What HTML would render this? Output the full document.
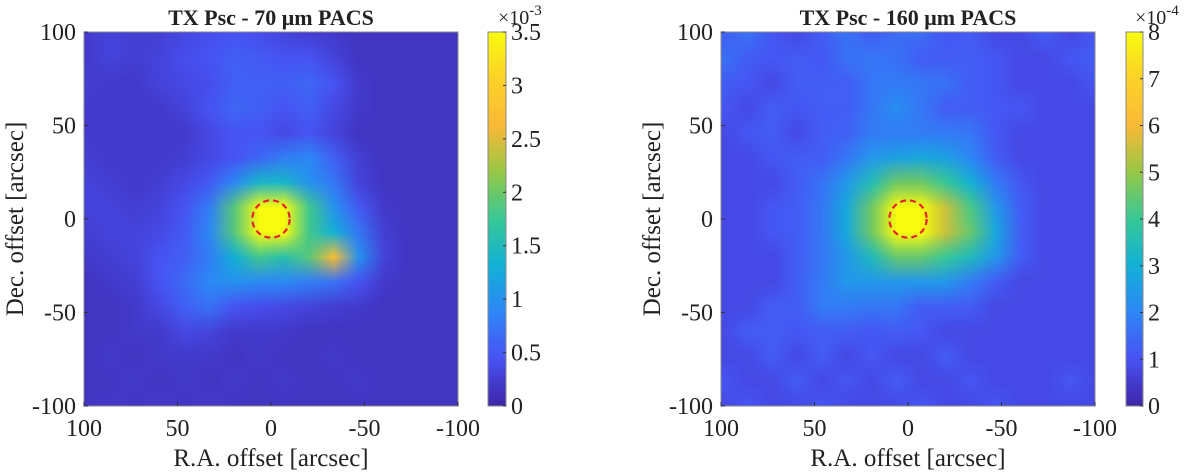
<!DOCTYPE html>
<html><head><meta charset="utf-8"><style>
body{margin:0;background:#fff;width:1200px;height:476px;overflow:hidden;font-family:"Liberation Serif",serif;}
svg text{font-family:"Liberation Serif",serif;fill:#222;}
canvas{position:absolute;}
</style></head><body>
<canvas id="c1" width="374" height="374" style="left:84px;top:32px"></canvas>
<canvas id="c2" width="374" height="374" style="left:721px;top:32px"></canvas>
<canvas id="cb1" width="18" height="374" style="left:488px;top:32px"></canvas>
<canvas id="cb2" width="17" height="374" style="left:1126px;top:32px"></canvas>
<svg id="ov" width="1200" height="476" style="position:absolute;left:0;top:0"></svg>
<script>
// data (16x16 grids, rows from Dec +100 to -100, columns from RA +100 to -100)
const map70 = [
[0.2,0.3,0.25,0.25,0.35,0.4,0.45,0.4,0.3,0.25,0.2,0.15,0.15,0.15,0.15,0.15],
[0.2,0.3,0.25,0.3,0.4,0.45,0.55,0.5,0.45,0.45,0.3,0.15,0.15,0.15,0.15,0.15],
[0.25,0.2,0.2,0.3,0.35,0.4,0.55,0.55,0.55,0.6,0.45,0.2,0.15,0.15,0.15,0.15],
[0.2,0.2,0.2,0.2,0.3,0.45,0.6,0.55,0.45,0.55,0.35,0.2,0.15,0.15,0.15,0.15],
[0.2,0.2,0.2,0.2,0.2,0.35,0.45,0.45,0.35,0.45,0.3,0.15,0.15,0.15,0.15,0.15],
[0.25,0.2,0.2,0.2,0.25,0.35,0.45,0.6,0.8,0.9,0.55,0.25,0.15,0.15,0.15,0.15],
[0.3,0.25,0.2,0.25,0.35,0.5,0.9,1.4,1.4,1.0,0.75,0.3,0.15,0.15,0.15,0.15],
[0.3,0.3,0.25,0.3,0.45,0.8,1.9,3.5,3.5,1.8,1.0,0.5,0.2,0.15,0.15,0.15],
[0.25,0.3,0.3,0.35,0.5,0.9,1.9,3.5,3.5,1.8,1.3,0.75,0.25,0.15,0.15,0.15],
[0.2,0.25,0.3,0.45,0.55,0.8,1.3,1.8,1.6,1.9,2.7,1.0,0.3,0.15,0.15,0.15],
[0.15,0.2,0.25,0.45,0.65,0.9,1.0,0.9,0.9,0.8,0.7,0.45,0.2,0.15,0.15,0.15],
[0.15,0.15,0.2,0.35,0.55,0.7,0.45,0.4,0.35,0.3,0.25,0.2,0.15,0.15,0.15,0.15],
[0.15,0.15,0.2,0.2,0.35,0.3,0.2,0.2,0.2,0.15,0.15,0.15,0.15,0.15,0.15,0.15],
[0.15,0.2,0.15,0.2,0.2,0.2,0.15,0.2,0.15,0.15,0.2,0.15,0.15,0.15,0.15,0.15],
[0.15,0.15,0.2,0.15,0.2,0.15,0.2,0.15,0.2,0.15,0.15,0.2,0.15,0.15,0.15,0.15],
[0.15,0.2,0.15,0.2,0.15,0.2,0.15,0.15,0.15,0.15,0.15,0.15,0.15,0.15,0.15,0.15]];
const map160 = [
[1.2,1.6,1.1,0.8,1.2,1.6,1.2,1.5,1.5,1.1,1.2,0.8,0.8,1.2,0.8,1.1],
[1.6,1.2,1.1,1.2,1.1,1.6,1.7,1.6,1.2,1.2,1.2,1.1,0.8,0.8,1.1,1.2],
[1.2,1.1,0.8,1.2,1.2,1.2,1.7,1.8,1.7,1.6,1.2,1.1,0.8,0.8,0.8,1.1],
[1.1,0.8,1.2,1.1,1.2,1.2,1.7,2.2,1.7,1.2,1.2,1.1,1.1,0.8,0.8,0.8],
[0.8,1.1,1.2,0.8,1.2,1.3,1.8,1.8,1.8,1.8,1.7,1.1,0.8,0.8,0.8,0.8],
[0.8,0.8,1.1,1.2,1.2,1.7,2.4,2.6,2.8,2.6,2.0,1.2,0.8,0.8,0.8,0.8],
[0.8,0.8,0.8,1.2,1.6,2.4,3.5,4.6,4.6,4.0,3.0,1.8,1.1,0.8,0.8,0.8],
[0.8,0.8,1.1,1.2,1.7,2.8,4.6,8,8,5.5,4.2,2.4,1.2,0.8,0.8,0.8],
[0.8,0.8,1.1,1.2,1.7,2.8,4.6,8,8,5.5,4.5,2.8,1.2,0.8,0.8,0.8],
[0.8,0.8,0.8,1.2,1.7,2.4,3.4,4.5,4.5,4.0,3.4,2.4,1.2,0.8,0.8,0.8],
[0.8,0.8,0.8,1.2,1.8,2.4,2.4,2.4,2.4,2.4,1.8,1.2,0.8,0.8,0.8,0.8],
[0.8,0.8,1.2,1.2,1.8,1.8,1.7,1.7,1.2,1.2,1.2,0.8,0.8,0.8,0.8,0.8],
[0.8,1.2,1.2,1.1,1.2,1.2,1.1,1.2,1.1,0.8,0.8,0.8,0.8,0.8,0.8,0.8],
[0.8,0.8,1.2,0.8,1.2,0.8,1.1,0.8,0.8,1.2,0.8,0.8,0.8,0.8,0.8,0.8],
[1.1,0.8,0.8,1.2,0.8,1.1,0.8,1.2,0.8,0.8,1.1,0.8,0.8,0.8,1.1,0.8],
[0.8,1.1,0.8,0.8,1.1,0.8,0.8,0.8,1.1,0.8,0.8,1.1,0.8,0.8,0.8,0.8]];
const xTicks = [100,50,0,-50,-100];
const yTicks = [100,50,0,-50,-100];
const cbTicks70 = [0,0.5,1,1.5,2,2.5,3,3.5];
const cbTicks160 = [0,1,2,3,4,5,6,7,8];
const circleRadius = [10,10];

const stops=[[0,62,38,168],[0.125,72,82,244],[0.25,46,135,247],[0.375,18,177,214],[0.5,55,200,151],[0.625,150,200,70],[0.75,250,185,55],[0.875,252,210,40],[1,249,251,14]];
function parula(t){t=Math.max(0,Math.min(1,t));for(let i=1;i<stops.length;i++){if(t<=stops[i][0]){const a=stops[i-1],b=stops[i],f=(t-a[0])/(b[0]-a[0]);return [0,1,2].map(k=>Math.round(a[k+1]+f*(b[k+1]-a[k+1])));}}return stops[8].slice(1);}
function drawMap(id,grid,vmax){
  const c=document.getElementById(id),ctx=c.getContext('2d');
  const n=grid.length,m=grid[0].length;
  const s=document.createElement('canvas');s.width=m;s.height=n;const sc=s.getContext('2d');
  for(let r=0;r<n;r++)for(let k=0;k<m;k++){const col=parula(grid[r][k]/vmax);sc.fillStyle=`rgb(${col})`;sc.fillRect(k,r,1,1);}
  ctx.imageSmoothingEnabled=true;ctx.drawImage(s,0,0,m,n,-c.width/m/2,-c.height/n/2,c.width*(1+1/m),c.height*(1+1/n));
}
function drawCb(id){const c=document.getElementById(id),ctx=c.getContext('2d');for(let y=0;y<c.height;y++){ctx.fillStyle=`rgb(${parula(1-y/(c.height-1))})`;ctx.fillRect(0,y,c.width,1);}}
drawMap('c1',map70,3.5);drawMap('c2',map160,8);drawCb('cb1');drawCb('cb2');

const ov=document.getElementById('ov');const NS='http://www.w3.org/2000/svg';
function el(t,a,txt){const e=document.createElementNS(NS,t);for(const k in a)e.setAttribute(k,a[k]);if(txt!==undefined)e.textContent=txt;ov.appendChild(e);return e;}
function panel(x0,title,cbx,cbw,cbTicks,cbMax,exp,rad){
  const y0=32,W=374,H=374;
  const sx=v=>x0+(100-v)/200*W, sy=v=>y0+(100-v)/200*H;
  let e=el('rect',{x:x0,y:y0,width:W,height:H,fill:'none',stroke:'#888','stroke-width':1});
  
  e=el('text',{x:x0+W/2,y:25,'text-anchor':'middle','font-size':'22','font-weight':'bold'},title);
  
  xTicks.forEach(v=>{e=el('text',{x:sx(v),y:y0+H+30,'text-anchor':'middle','font-size':'24'},String(v));
    
    el('line',{x1:sx(v),x2:sx(v),y1:y0+H,y2:y0+H-4,stroke:'#333'});});
  yTicks.forEach(v=>{e=el('text',{x:x0-8,y:sy(v)+8,'text-anchor':'end','font-size':'24'},String(v));
    
    el('line',{x1:x0,x2:x0+4,y1:sy(v),y2:sy(v),stroke:'#333'});});
  e=el('text',{x:x0+W/2,y:466,'text-anchor':'middle','font-size':'25'},'R.A. offset [arcsec]');
  
  e=el('text',{x:0,y:0,'text-anchor':'middle','font-size':'25',transform:`translate(${x0-61},${y0+H/2}) rotate(-90)`},'Dec. offset [arcsec]');
  
  e=el('ellipse',{cx:sx(0),cy:sy(0),rx:rad*W/200,ry:rad*H/200,fill:'none',stroke:'#e8202a','stroke-width':2.2,'stroke-dasharray':'6 4'});
  
  el('rect',{x:cbx,y:y0,width:cbw,height:H,fill:'none',stroke:'#888'});
  cbTicks.forEach(v=>{const y=y0+H-v/cbMax*H;
    el('line',{x1:cbx+cbw,x2:cbx+cbw-3,y1:y,y2:y,stroke:'#333'});
    e=el('text',{x:cbx+cbw+5,y:y+8,'font-size':'24'},String(v));
    });
  e=el('text',{x:cbx+cbw-8,y:24,'font-size':'20'},'×10');
  
  const ts=document.createElementNS(NS,'tspan');ts.textContent=exp;ts.setAttribute('dy','-9');ts.setAttribute('font-size','15');e.appendChild(ts);
}
panel(84,'TX Psc - 70 μm PACS',488,18,cbTicks70,3.5,'-3',circleRadius[0]);
panel(721,'TX Psc - 160 μm PACS',1126,17,cbTicks160,8,'-4',circleRadius[1]);
</script>
</body></html>
